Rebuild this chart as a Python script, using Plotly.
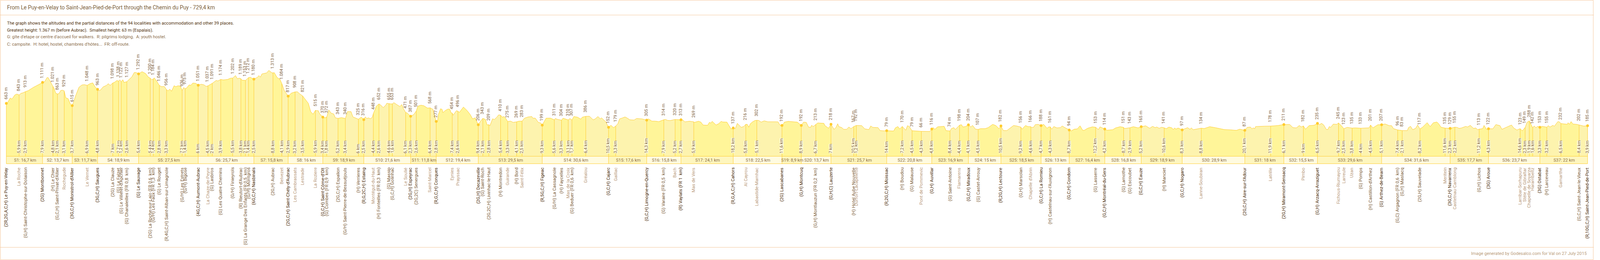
import numpy as np
import plotly.graph_objects as go

title = "From Le Puy-en-Velay to Saint-Jean-Pied-de-Port through the Chemin du Puy - 729,4 km"
intro_dark = ["The graph shows the altitudes and the partial distances of the 94 localities with accommodation and other 39 places.",
              "Greatest height: 1.367 m (before Aubrac).  Smallest height: 63 m (Espalais)."]
intro_light = ["G: gîte d'etape or centre d'accueil for walkers.  R: pilgrims lodging.  A: youth hostel.",
               "C: campsite.  H: hotel, hostel, chambres d'hôtes...  FR: off-route."]
footer = "Image generated by Godesalco.com for Val on 27 July 2015"

places = ["(2R,2G,A,C,H) Le Puy-en-Velay","La Roche","(G,H) Saint-Christophe-sur-Dolaison","(2G) Montbonnet","(H) Le Chier",
"(G,C,H) Saint-Privat-d'Allier","Rochegude","(3G,C,H) Monistrol-d'Allier","Le Vernet","(3G,C,H) Saugues","(2G) La Clauze","(G) Le Falzet",
"(G) Le Villeret-d'Apchier","(G) Chanaleilles (FR 0,8  km)","(G) Le Sauvage","(2G) La Roche-sur-Lajo (FR 0,6  km)","(G/H) Les Faux (FR 1,3  km)",
"(G) Le Rouget","(R,4G,C,H) Saint-Alban-sur-Limagnole","(G/H) Les Estrets","(G/H) Bigose","(4G,C,H) Aumont-Aubrac","La Chaze-de-Peyre","(G) Lasbros",
"(G) Les Quatre Chemins","(G/H) Finieyrols","(R) Rieutort-d'Aubrac","(G) La Grange Des Enfants (FR 0,5  km)","(G/H) Montgros","(6G,C,H) Nasbinals",
"(2G,H) Aubrac","Belvezet","(2G,C,H) Saint-Chély-d'Aubrac","Les Cambrassats","Lestrade","La Roziere","(G,C,H) Saint-Côme-d'Olt","(G) Combes (FR 0,9  km)",
"(2G,C,H) Espalion","(G/H) Saint-Pierre-de-Bessuéjouls","(H) Verrieres","(R,G,2C,H) Estaing","Montégut-du-Haut","(H) Fonteilles (FR 0,3  km)","(G) Massip",
"(G,C,H) Golinhac","Le Soulié","(2G,H) Espeyrac","(2G,2C) Senergues","Saint-Marcel","(R,G,C,H) Conques","Eynies","Prayssac","(2G,H) Decazeville",
"(G) Saint-Roch","(2G,2C,H) Livinhac-le-Haut","(H) Montredon","Guirande","(H) Bord","Saint-Félix","(R,5G,C,H) Figeac","(G/H) La Cassagnole","(H) Faycelles",
"Mas de la Croix","(G) Beduer (FR 0,6  km)","Gréalou","(G,C,H) Cajarc","Gaillac","(G,C,H) Limogne-en-Quercy","(G) Varaire (FR 0,5  km)","Bach",
"(R) Vaylats (FR 1  km)","Mas de Vers","(R,G,A,C,H) Cahors","Al Cayrou","Labastide-Marnhac","(2G) Lascabanes","(G,H) Montcuq","(G,H) Montlauzun (FR 0,2  km)",
"(G,H,C) Lauzerte","(H) Hotel Aube Nouvelle","Durfort-Lacapelette","(R,2G,C,H) Moissac","(H) Boudou","(G) Malause","Pont de Pommevic","(G,H) Auvillar",
"(G) Saint-Antoine","Flamarens","(G,C,H) Miradoux","(G) Castet-Arrouy","(R,2G,H) Lectoure","(G,H) Marsolan","Chapelle d'Abrin","(G,C,H) La Romieu",
"(H) Castelnau-sur-l'Auvignon","(G,C,H) Condom","(G) Lasserre","(G,C,H) Montréal-du-Gers","(G) Lamothe","(G) Escoubet","(G,C,H) Eauze","(H) Manciet",
"(G,C,H) Nogaro","Lanne-Soubiran","(2G,C,H) Aire-sur-l'Adour","Latrille","(2G,H) Miramont-Sensacq","Pimbo","(G,H) Arzacq-Arraziguet","Fichous-Riumayou",
"Larreule","Uzan","(G) Pomps","(H) Castillon-d'Arthez","(G) Arthez-de-Bearn","(G,C) Argagnon (FR 0,6  km)","(G,H) Maslacq","(2G,H) Sauvelade","Meritein",
"(3G,C,H) Navarrenx","Castetnau-Camblong","(G,H) Lichos","(3G) Aroue","Larribar-Sorhapuru","Stèle de Gibraltar","Chapelle de Soyarza","Harambeltz",
"(3G) Ostabat","(H) Larceveau","Gamarthe","(G,C,H) Saint-Jean-le-Vieux","(R,10G,C,H) Saint-Jean-Pied-de-Port"]

partial_km = [0,5.9,2.9,7.9,4.8,2.1,3.1,3.7,6.9,4.8,7,2.7,1.2,2.6,5.4,5.4,1.4,2.8,3.3,7.2,1.4,6,4.5,2,3.9,5.5,3.8,2.1,1.4,2.5,
8.8,4.1,2.9,3.2,3.5,5.9,3.4,1.8,5.2,3.4,6,2.5,4.4,2.6,4.6,1.6,6.1,2.3,2.6,6.4,2.8,7.4,2.6,9.4,2.1,2.8,5.4,3.3,4.1,2.5,9.3,
5.6,3.3,3.1,1.7,6.4,10.5,3.3,14.3,7.9,5.2,2.7,5.9,18.2,5.8,5.1,11.6,8.9,6.7,7,10.5,1.2,14,7.2,4.5,4.3,4.8,8.4,4.4,4.1,4.5,10.5,
9.2,4.6,4.7,4.3,8.7,12.2,4.2,8.7,2.9,5.2,10.6,8.3,8.8,20.1,11.9,6.1,9,6.5,9.7,2.5,3.8,4,4.5,5.1,7.4,2.1,8.2,11.6,2.3,2.2,11.2,4.3,
14.6,2.3,1.9,1.6,3.3,3.2,6.5,8.4,3.9]

altitudes = [663,843,913,1111,1021,863,929,615,1048,963,1098,1138,1122,1127,1292,1200,1184,1046,956,936,975,1051,1037,1091,1174,1202,1189,1153,1212,1180,
1313,1084,817,908,821,515,370,372,343,340,325,316,448,652,655,653,471,387,501,568,277,454,496,206,343,209,410,275,269,283,199,
311,304,310,307,386,152,179,305,314,320,313,269,137,216,302,192,192,213,218,167,192,79,170,79,66,116,74,198,204,107,182,
156,166,188,161,94,153,114,151,143,165,141,97,134,87,178,211,182,235,245,123,135,133,201,207,96,83,117,135,129,155,113,122,
123,149,288,142,153,155,232,202,185]

# 0 = place without lodging, 1 = locality with lodging, 2 = end of a stage
kinds = [2,0,1,2,1,1,0,2,0,2,1,1,1,1,2,1,1,1,1,1,1,2,0,1,1,1,1,1,1,2,
1,0,2,0,0,0,2,1,1,1,1,2,0,1,1,1,0,2,1,0,2,0,0,2,1,1,1,0,1,0,2,
1,1,0,1,0,2,0,2,1,0,2,0,2,0,0,2,2,1,2,1,0,2,1,1,0,2,1,0,2,1,2,
1,0,2,1,2,1,2,1,1,2,1,2,0,2,0,2,0,2,0,0,0,1,1,2,1,1,1,0,2,0,1,2,
0,0,0,0,2,1,0,1,2]

stage_km = [16.7,13.7,11.7,18.9,27.5,25.7,15.8,16,18.9,21.6,11.8,19.4,29.5,30.6,17.6,15.8,24.1,22.5,8.9,13.7,25.7,20.8,16.9,15,18.5,13,16.4,16.8,18.9,28.9,18,15.5,29.6,31.6,17.7,23.7,22]

terrain_points = [
(0.69,687),(1.8,778),(2.47,756),(3.08,784),(3.86,840),(4.86,862),(6.8,878),(7.64,887),(10.1,934),(12.36,1001),(14.3,1048),(17.75,1131),(18.75,1212),(19.3,1212),(20.4,1118),
(22.1,978),(22.75,884),(24.3,873),(25.1,937),(25.86,945),(27.4,784),(28.5,762),(29.6,645),(30.86,673),(32.1,840),(33.5,1006),(34.86,1056),(36,1062),(38.5,1081),(39.86,1101),(41,1012),
(42.6,931),(43.5,951),(44.6,1012),(46.25,1048),(47,1084),(47.9,1048),(49.9,1112),(51,1151),(52.4,1165),(53.75,1168),(54.3,1109),(56.8,1181),(57.9,1229),(59,1321),(59.86,1321),
(62.6,1340),(64.3,1298),(65.4,1229),(67.1,1168),(68.2,1209),(69.3,1140),(71.5,1020),(72.9,1023),(74.6,931),(75.4,967),(76.2,923),(77.4,1040),(78.2,1020),(79.3,1040),(80.4,1022),
(81.8,1002),(83.2,993),(84.3,1057),(85.1,1049),(86,1096),(87.4,1091),(89.9,1071),(91.25,1057),(92.2,1024),(96.8,1152),(97.6,1141),(100.1,1163),(102.1,1174),(103.5,1202),
(105.7,1257),(106.6,1188),(107.4,1202),(108.75,1157),(112.6,1221),(113.2,1202),(116,1224),(116.5,1257),(117.2,1224),(117.9,1291),(120.1,1313),(121.1,1367),(122.4,1319),
(123.6,1319),(124.9,1216),(126.25,1174),(128.2,938),(128.9,890),(131.5,882),(134.3,910),(135.4,863),(138.2,729),(139.3,665),(140.4,487),(141.5,432),(143.2,507),(143.9,507),(144.6,437),
(147,354),(148.75,521),(149.9,451),(151,437),(151.8,354),(154.6,359),(157.4,487),(159,487),(159.9,373),(161,354),(163.75,370),
(165.6,376),(166.25,340),(167.1,354),(167.9,334),(168.86,368),(169.86,507),(170.7,604),(172.9,618),(173.9,571),(175.1,632),(175.5,665),(177.4,651),(178.75,679),(180,640),(181.5,596),(182.4,637),(183.2,548),
(185.1,451),(187.9,423),(189.86,604),(191.25,624),(192.6,612),(194.3,562),(196.8,535),(197.6,396),(198.86,270),(199.3,423),(200.3,548),(201,535),(201.4,465),(202.4,507),(203.75,543),(204.6,535),(205.1,465),
(206.1,410),(207.6,507),(209,471),(210.86,585),(212.6,507),(214,423),(215.1,332),(216.25,354),(218.75,284),(221,321),(221.8,201),(223.1,187),(224.3,334),(225.1,318),(226.25,368),(227.1,418),
(228.75,368),(229.6,382),(230.4,340),(232.65,284),(233.75,257),(236.5,284),(239,346),(240.7,373),(242.4,382),(242.9,346),(244,348),(245.4,257),(246.5,243),
(248.2,284),(249,346),(251,348),(253.2,340),(254.3,321),(256.8,346),(260,340),(261.8,382),(263.5,368),(265,326),(265.7,368),(269,387),(270.7,312),(271.5,326),(272.9,382),(274,332),(274.6,354),(275.4,318),(276.5,270),
(278.9,195),(280.1,145),(282.1,229),(282.9,332),(284,348),(285.4,373),(286.5,346),(287.6,312),(289.6,307),(290.7,340),(293.2,332),(296.25,332),(297.75,284),(299.3,284),(301,273),
(304,321),(305.1,298),(306.25,296),(312.1,307),(313,268),(315.1,282),(317.4,257),(319.3,282),(320.4,262),(321.4,201),(323.5,195),(324.3,257),(325,243),(325.6,279),(327.4,201),(328.6,229),(329.75,279),
(330.4,266),(332.4,262),(333.2,201),(334.3,118),(336.25,123),(337.2,237),(338.2,187),(339,151),(340.1,168),(341.8,215),(342.5,154),(343.2,229),(344.3,270),(345.4,298),(347.1,298),(348.2,262),(349.6,290),(351.25,270),
(354.6,270),(356,268),(356.8,201),(358.5,229),(358.9,262),(360.7,279),(362.9,270),(364.9,262),(367.75,262),(369,257),(370.1,154),(371,151),(371.5,195),(372.2,168),(374.3,245),(377.1,237),(377.65,187),(379.3,132),
(381.8,109),(382.65,145),(383.5,229),(384,168),(385.4,145),(386.25,109),(387.65,109),(388.65,159),(389.6,123),(394.6,187),(396,118),(397.9,104),(398.75,181),(399.6,151),(402.1,145),(403.1,81),(404.9,76),
(409.3,73),(410.1,140),(411.25,168),(412.1,118),(414.9,90),(415.7,187),(416.5,168),(426,63),(427.6,145),(428.3,109),(429.6,162),(432.6,173),(433.5,81),(436,126),(437.1,145),(437.75,104),
(440.6,207),(441.25,159),(442.4,168),(444.9,159),(445.7,193),(447.1,112),(449.3,123),(451.5,123),(452.9,145),(455,215),(456.5,187),(457.9,123),(459.9,84),(461.5,81),(463.2,145),(464.6,190),(466,181),
(468.5,112),(470.1,190),(471.25,168),(473,145),(474,159),(474.6,209),(476,215),(478.5,215),(480.1,131),(480.7,159),(482.2,112),(483.2,168),(484.6,140),(486.25,145),(487,181),(488.5,140),(491.25,76),(492.6,112),(494,118),(495.3,184),(496.5,90),
(497.1,84),(498.75,131),(501,162),(503.75,104),(504.5,162),(507.6,90),(510.4,101),(511.6,137),(513.75,165),(515.7,126),(519.9,165),(522.1,140),(525.6,184),(527.4,131),(528.75,173),(529.9,145),(530.7,159),(531.8,131),(532.9,154),
(535.1,123),(536.25,157),(537.65,140),(538.3,104),(539,140),(539.5,112),(540.5,137),(544.9,145),(546,109),(546.6,140),(547.5,101),(549,112),(552.6,126),(555.1,165),(557.6,145),(559.9,126),(561.8,104),(564.6,98),(567.4,87),(569,112),
(572.4,151),(573.9,157),(574.6,118),(575.1,140),(575.9,123),(576.25,168),(580.4,176),(586.5,190),(592,212),(593.5,145),(595.1,140),(596.4,190),(597.4,159),(599.3,112),(600.9,187),(603.2,195),(605.7,207),(606.7,237),(607.7,201),(608.9,106),(609.6,106),(610.25,168),(610.9,151),(612.1,220),(613.75,215),
(615.7,193),(618.5,151),(622.1,140),(628.6,140),(630.4,140),(632.65,207),(636,223),(637.9,187),(639,187),(639.9,123),(646.25,81),(646.8,145),(647.75,173),(648.75,101),(650.1,131),(651,201),(653.2,151),
(655.4,251),(656.8,168),(658.2,248),(659.9,265),(660.7,229),(661.8,154),(662.65,143),(669.3,149),(670.1,129),(671.25,138),(673.2,172),(674,158),(675.3,193),(676.8,129),(677.9,138),(678.65,100),
(681,123),(681.65,193),(682.65,114),(685.7,120),(687.1,210),(689,187),(689.9,109),(691.5,143),(694.3,201),(695.4,135),(696.8,94),(699.3,77),(701.5,259),(704.75,181),(705.6,143),(706.25,172),(708.5,172),
(711.25,187),(712.1,158),(713.5,196),(714,172),(715.7,274),(716.5,265),(718.75,225),(720.1,216),(720.4,251),(721,216),(721.8,274),(722.65,222),(724.3,216),(727.65,178)]

# ---- page geometry of the reference; the figure fills the browser window and keeps these proportions ----
W, H = 4411, 666
X0, PXKM = 17.5, 6.0
Y0, PXM = 344.3, 0.12
alt_at = lambda p: (Y0 - p) / PXM
paper_y = lambda p: 1 - p / H
BAND_TOP, BAND_BOT = alt_at(400.3), alt_at(419.3)

FONT = "Roboto"
DARK, LIGHT = "#FFF599", "#FDF3AE"
LINE = "#FFCB2E"
C_KIND = {0: "#B8997A", 1: "#7B5B36", 2: "#4A2A05"}
C_LABEL = "#7F6240"

km = np.cumsum(partial_km)
alts = np.array(altitudes, float)
kinds_a = np.array(kinds)

t_km = np.array([p[0] for p in terrain_points] + list(km))
t_alt = np.array([p[1] for p in terrain_points] + list(alts), float)
order = np.argsort(t_km, kind="stable")
t_km, t_alt = t_km[order], t_alt[order]

def band_xy(indices):
    xs, ys = [], []
    for i in indices:
        a, b = km[i], km[i + 1]
        m = (t_km >= a) & (t_km <= b)
        xs += [a] + list(t_km[m]) + [b, a, None]
        ys += [BAND_TOP] + list(t_alt[m]) + [BAND_TOP, BAND_TOP, None]
    return xs, ys

fig = go.Figure()
n = len(km)
for idx, col in ((range(0, n - 1, 2), DARK), (range(1, n - 1, 2), LIGHT)):
    x, y = band_xy(idx)
    fig.add_trace(go.Scatter(x=x, y=y, mode="lines", fill="toself", fillcolor=col,
                             line=dict(width=0), hoverinfo="skip", showlegend=False))

annotations, shapes = [], []

# stage row
ends = km[kinds_a == 2]
for i, s in enumerate(stage_km):
    a, b = ends[i], ends[i + 1]
    shapes.append(dict(type="rect", xref="x", yref="y", x0=a, x1=b, y0=BAND_BOT, y1=BAND_TOP,
                       fillcolor="#FEF6BE" if i % 2 == 0 else "#FFFBE0", line=dict(width=0), layer="below"))
    v = f"{s:g}".replace(".", ",")
    annotations.append(dict(x=(a + b) / 2, y=(BAND_TOP + BAND_BOT) / 2, xref="x", yref="y", xshift=1.5, yshift=-0.5,
                            text=f"S{i+1}: {v} km", showarrow=False, font=dict(family=FONT, size=11, color="#8A6C45")))

for yy in (BAND_TOP, BAND_BOT):
    fig.add_trace(go.Scatter(x=[km[0], km[-1]], y=[yy, yy], mode="lines", line=dict(color=LINE, width=1),
                             hoverinfo="skip", showlegend=False))

# drop lines
lx, ly = [], []
for k, a, t in zip(km, alts, kinds_a):
    lx += [k, k, None]
    ly += [a, BAND_BOT if t == 2 else BAND_TOP, None]
fig.add_trace(go.Scatter(x=lx, y=ly, mode="lines", line=dict(color=LINE, width=1), hoverinfo="skip", showlegend=False))

# terrain line
fig.add_trace(go.Scatter(x=t_km, y=t_alt, mode="lines", line=dict(color=LINE, width=1), hoverinfo="skip", showlegend=False))

# stage dots
m = kinds_a == 2
fig.add_trace(go.Scatter(x=km[m], y=alts[m], mode="markers", marker=dict(color=LINE, size=7, line=dict(width=0)),
                         hoverinfo="skip", showlegend=False))

def alt_text(a):
    a = int(a)
    return f"{a//1000}.{a%1000:03d} m" if a >= 1000 else f"{a} m"

for i in range(n):
    k, a, t = km[i], alts[i], kinds_a[i]
    annotations.append(dict(x=k, y=a, xref="x", yref="y", xshift=-1, yshift=8, textangle=-90,
                            xanchor="center", yanchor="bottom", text=alt_text(a), showarrow=False,
                            font=dict(family=FONT, size=11, color=C_LABEL)))
    if i > 0:
        v = f"{partial_km[i]:g}".replace(".", ",")
        annotations.append(dict(x=k, y=paper_y(392.5), xref="x", yref="paper", xshift=-1, textangle=-90,
                                xanchor="center", yanchor="bottom", text=f"{v} km", showarrow=False,
                                bgcolor="#FFFCDC", borderpad=0, borderwidth=0, height=10,
                                font=dict(family=FONT, size=11, color=C_LABEL)))
    annotations.append(dict(x=k, y=paper_y(427), xref="x", yref="paper", xshift=-1, textangle=-90,
                            xanchor="center", yanchor="top", text=places[i], showarrow=False,
                            font=dict(family=FONT, size=11.5, color=C_KIND[int(t)])))

# page furniture
BORDER = "#F5C79B"
shapes.append(dict(type="rect", xref="paper", yref="paper", x0=0.0003, x1=0.9997, y0=0.5/H, y1=1-0.5/H,
                   line=dict(color=BORDER, width=1), fillcolor="rgba(0,0,0,0)"))
for p in (38.5, 633.5):
    shapes.append(dict(type="line", xref="paper", yref="paper", x0=0, x1=1, y0=paper_y(p), y1=paper_y(p),
                       line=dict(color=BORDER, width=1)))

def head(text, p, color, size, xanchor="left", px=17):
    annotations.append(dict(x=px / W, y=paper_y(p), xref="paper", yref="paper", xanchor=xanchor, yanchor="middle",
                            text=text, showarrow=False, font=dict(family=FONT, size=size, color=color)))

head(title, 19, "#7D5F3C", 13.8)
head(intro_dark[0], 59, "#4F2F0A", 11.2)
head(intro_dark[1], 77, "#4F2F0A", 11.2)
head(intro_light[0], 95, "#8C6E4C", 11.2)
head(intro_light[1], 113, "#8C6E4C", 11.2)
head(footer, 649, "#B89A78", 11.2, xanchor="right", px=4393.5)

fig.update_layout(
    height=H, autosize=True, margin=dict(l=0, r=0, t=0, b=0, autoexpand=False), showlegend=False,
    plot_bgcolor="white", paper_bgcolor="white", hovermode=False,
    xaxis=dict(range=[-X0 / PXKM, (W - X0) / PXKM], visible=False, fixedrange=True),
    yaxis=dict(range=[alt_at(H), alt_at(0)], visible=False, fixedrange=True),
    annotations=annotations, shapes=shapes,
)
fig.write_html("out.html", config={"responsive": True, "displayModeBar": False},
               post_script="document.body.style.margin='0';document.body.style.overflow='hidden';")
